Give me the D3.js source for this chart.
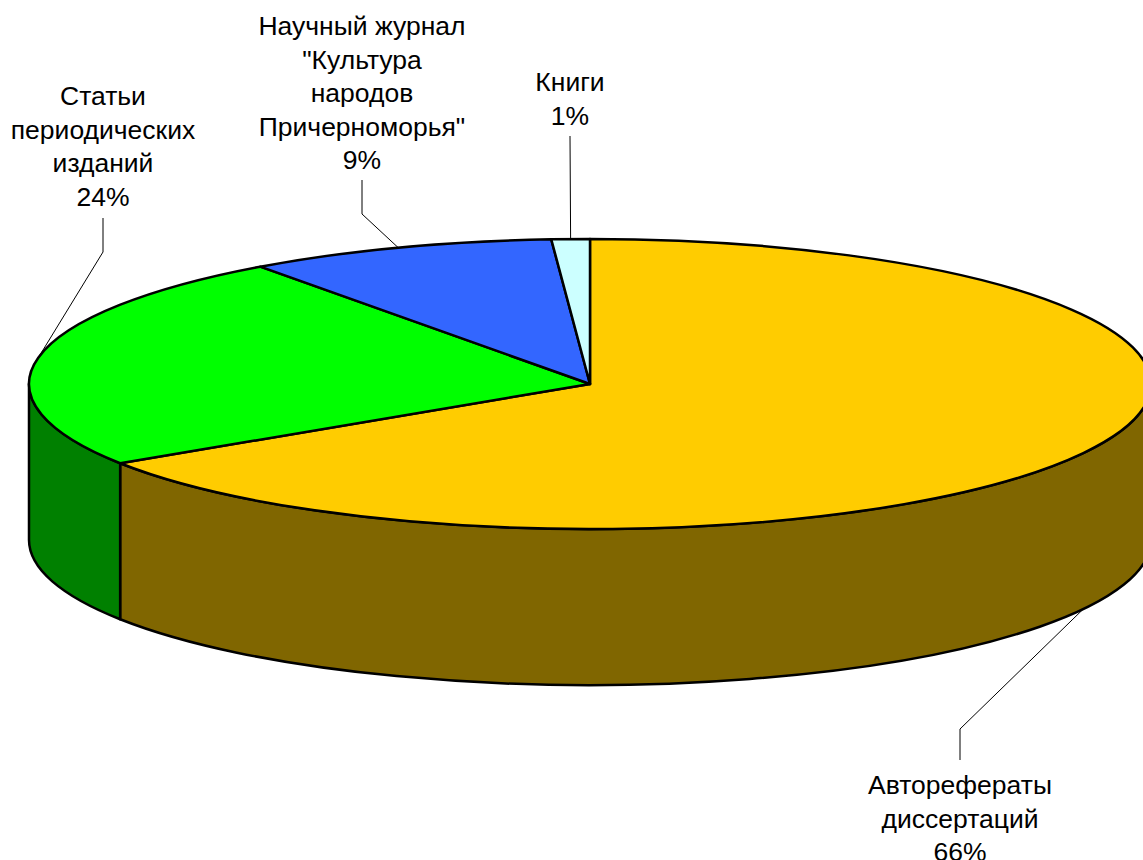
<!DOCTYPE html>
<html>
<head>
<meta charset="utf-8">
<script src="https://cdn.jsdelivr.net/npm/d3@7"></script>
<style>
  html, body { margin: 0; padding: 0; background: #fff; overflow: hidden; }
  text { font-family: "Liberation Sans", Arial, sans-serif; font-size: 26.5px; fill: #000; }
</style>
</head>
<body>
<script>
const categories = ['Авторефераты диссертаций', 'Статьи периодических изданий', 'Научный журнал "Культура народов Причерноморья"', 'Книги'];
const values = [65.8, 24.2, 8.9, 1.1];
const topColors = ['#ffcc00', '#00ff00', '#3366ff', '#ccffff'];
const sideColors = ['#806600', '#008000', '#1a3380', '#668080'];

// how each category name breaks over lines in its label
const labelLines = [
    ['Авторефераты', 'диссертаций'],
    ['Статьи', 'периодических', 'изданий'],
    ['Научный журнал', '"Культура', 'народов', 'Причерноморья"'],
    ['Книги']
];
// elbow of each leader line, then where its label sits
const elbowX = [960, 103, 362, 570];
const elbowY = [729, 252, 214, 136];
const leaderEndY = [760, 218, 180, 136];
const labelFirstY = [794, 105, 35, 91];

const width = 1143, height = 860;
const cx = 590, cy = 384, rx = 561, ry = 145, depth = 156;
const lineHeight = 33.6;

const svg = d3.select('body').append('svg')
    .attr('width', width)
    .attr('height', height)
    .style('display', 'block');

const scaleX = d3.scaleLinear().domain([-1, 1]).range([cx - rx, cx + rx]);
const scaleY = d3.scaleLinear().domain([-1, 1]).range([cy - ry, cy + ry]);

const pie = d3.pie().sort(null)(values);

// angle runs clockwise from 12 o'clock, same as d3.pie
const px = a => scaleX(Math.sin(a));
const py = a => scaleY(-Math.cos(a));
const ellipseArc = (a0, a1, dy, sweep) => {
    const large = Math.abs(a1 - a0) > Math.PI ? 1 : 0;
    const end = sweep ? a1 : a0;
    return `A${rx},${ry} 0 ${large} ${sweep} ${px(end)},${py(end) + dy}`;
};

// leaders go underneath so they stop at the edge of the pie
const anchors = pie.map(d => {
    const mid = (d.startAngle + d.endAngle) / 2;
    const front = Math.cos(mid) < 0;
    return [px(mid), py(mid) + (front ? depth : 0)];
});

svg.append('g')
    .selectAll('path')
    .data(pie)
    .enter()
    .append('path')
    .attr('fill', 'none')
    .attr('stroke', '#000')
    .attr('stroke-width', 1)
    .attr('d', (d, i) => d3.line()([
        [elbowX[i], leaderEndY[i]],
        [elbowX[i], elbowY[i]],
        anchors[i]
    ]));

// only the part of a slice between 3 and 9 o'clock has a visible wall
const frontStart = Math.PI / 2, frontEnd = 3 * Math.PI / 2;
const walls = pie
    .map((d, i) => ({
        a0: Math.max(d.startAngle, frontStart),
        a1: Math.min(d.endAngle, frontEnd),
        color: sideColors[i]
    }))
    .filter(d => d.a1 > d.a0);

svg.append('g')
    .selectAll('path')
    .data(walls)
    .enter()
    .append('path')
    .attr('fill', d => d.color)
    .attr('stroke', '#000')
    .attr('stroke-width', 2.5)
    .attr('stroke-linejoin', 'round')
    .attr('d', d => `M${px(d.a0)},${py(d.a0)}`
        + ellipseArc(d.a0, d.a1, 0, 1)
        + `L${px(d.a1)},${py(d.a1) + depth}`
        + ellipseArc(d.a0, d.a1, depth, 0)
        + 'Z');

svg.append('g')
    .selectAll('path')
    .data(pie)
    .enter()
    .append('path')
    .attr('fill', (d, i) => topColors[i])
    .attr('stroke', '#000')
    .attr('stroke-width', 2.5)
    .attr('stroke-linejoin', 'round')
    .attr('d', d => `M${cx},${cy}L${px(d.startAngle)},${py(d.startAngle)}`
        + ellipseArc(d.startAngle, d.endAngle, 0, 1)
        + 'Z');

const labels = svg.append('g')
    .selectAll('text')
    .data(pie)
    .enter()
    .append('text')
    .attr('text-anchor', 'middle')
    .attr('aria-label', (d, i) => categories[i]);

labels.selectAll('tspan')
    .data((d, i) => labelLines[i].concat(Math.round(d.data) + '%').map(t => ({t, i})))
    .enter()
    .append('tspan')
    .attr('x', d => elbowX[d.i])
    .attr('y', (d, j) => labelFirstY[d.i] + j * lineHeight)
    .text(d => d.t);
</script>
</body>
</html>
